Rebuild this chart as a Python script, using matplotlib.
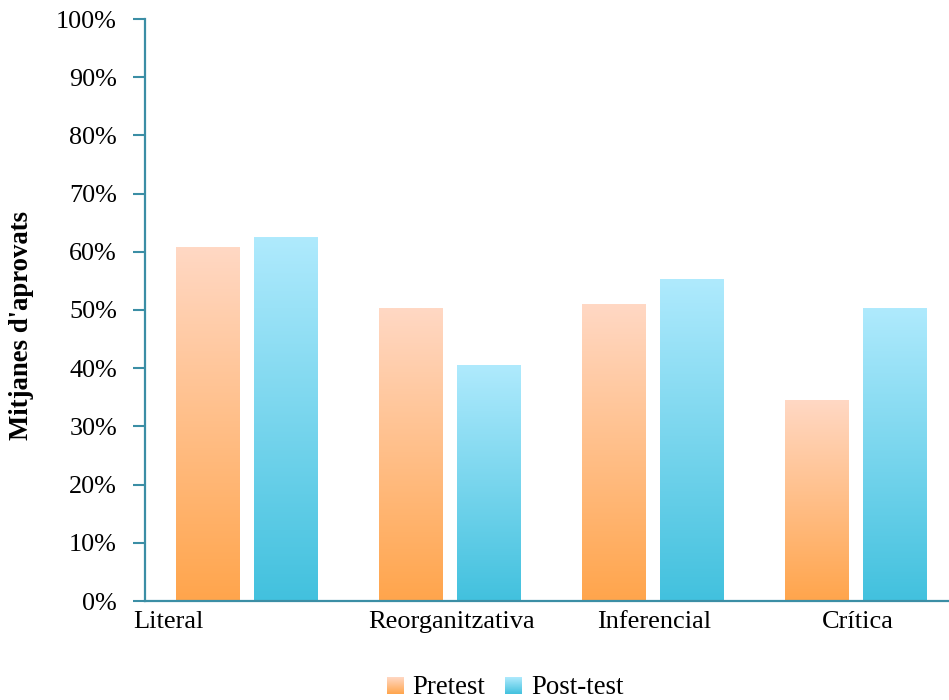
import numpy as np
import matplotlib
matplotlib.use("Agg")
import matplotlib.pyplot as plt
from matplotlib.colors import LinearSegmentedColormap
from matplotlib.transforms import blended_transform_factory

categories = ["Literal", "Reorganitzativa", "Inferencial", "Crítica"]
pretest = [60.8, 50.2, 51.0, 34.4]
posttest = [62.5, 40.5, 55.2, 50.2]
series_names = ["Pretest", "Post-test"]

plt.rcParams['font.family'] = ['Liberation Serif', 'DejaVu Serif']

axis_col = '#3b8ea5'
pre_cmap = LinearSegmentedColormap.from_list('pre', ['#ffa54c', '#ffd8c4'])
post_cmap = LinearSegmentedColormap.from_list('post', ['#42c1de', '#afeafd'])
grad = np.linspace(0, 1, 256).reshape(-1, 1)

W, H = 949, 700
fig = plt.figure(figsize=(W / 100, H / 100), dpi=100)
ax = fig.add_axes([145 / W, 1 - 601 / H, 812 / W, 582 / H])

x = np.arange(len(categories))
bw = 0.315
off = 0.192


def gradient_bars(xpos, vals, cmap):
    bars = ax.bar(xpos, vals, bw, color='none', edgecolor='none')
    for b in bars:
        x0, h = b.get_x(), b.get_height()
        ax.imshow(grad, extent=[x0, x0 + b.get_width(), 0, h], origin='lower',
                  aspect='auto', cmap=cmap, interpolation='bilinear', zorder=2)
    return bars


gradient_bars(x - off, pretest, pre_cmap)
gradient_bars(x + off, posttest, post_cmap)

ax.set_xlim(-0.5, 3.5)
ax.set_ylim(0, 100)
ax.set_yticks(np.arange(0, 101, 10))
ax.set_yticklabels([f"{v}%" for v in range(0, 101, 10)], fontsize=18.8)
ax.tick_params(axis='y', direction='out', length=8.6, width=1.5, color=axis_col, pad=11.5)
ax.set_xticks([])

for s in ['top', 'right']:
    ax.spines[s].set_visible(False)
for s in ['left', 'bottom']:
    ax.spines[s].set_color(axis_col)
    ax.spines[s].set_linewidth(1.6)

# category names under the axis
tr = blended_transform_factory(ax.transData, ax.transAxes)
for i, c in enumerate(categories):
    if i == 0:
        ax.text(-0.559, -0.017, c, transform=tr, ha='left', va='top', fontsize=19)
    else:
        ax.text(i + 0.01, -0.017, c, transform=tr, ha='center', va='top', fontsize=19)

fig.text(22 / W, 1 - 325 / H, "Mitjanes d'aprovats", rotation=90, fontsize=19.3,
         fontweight='bold', ha='center', va='center')

# legend with gradient swatches
for (sx, tx), name, cmap in zip([(387, 412), (505, 531)], series_names, [pre_cmap, post_cmap]):
    lax = fig.add_axes([sx / W, 1 - 694 / H, 17 / W, 17 / H])
    lax.imshow(grad, origin='lower', aspect='auto', cmap=cmap, interpolation='bilinear')
    lax.axis('off')
    fig.text(tx / W, 1 - 687 / H, name, fontsize=19.3, ha='left', va='center')

fig.savefig('out.png', dpi=100)
